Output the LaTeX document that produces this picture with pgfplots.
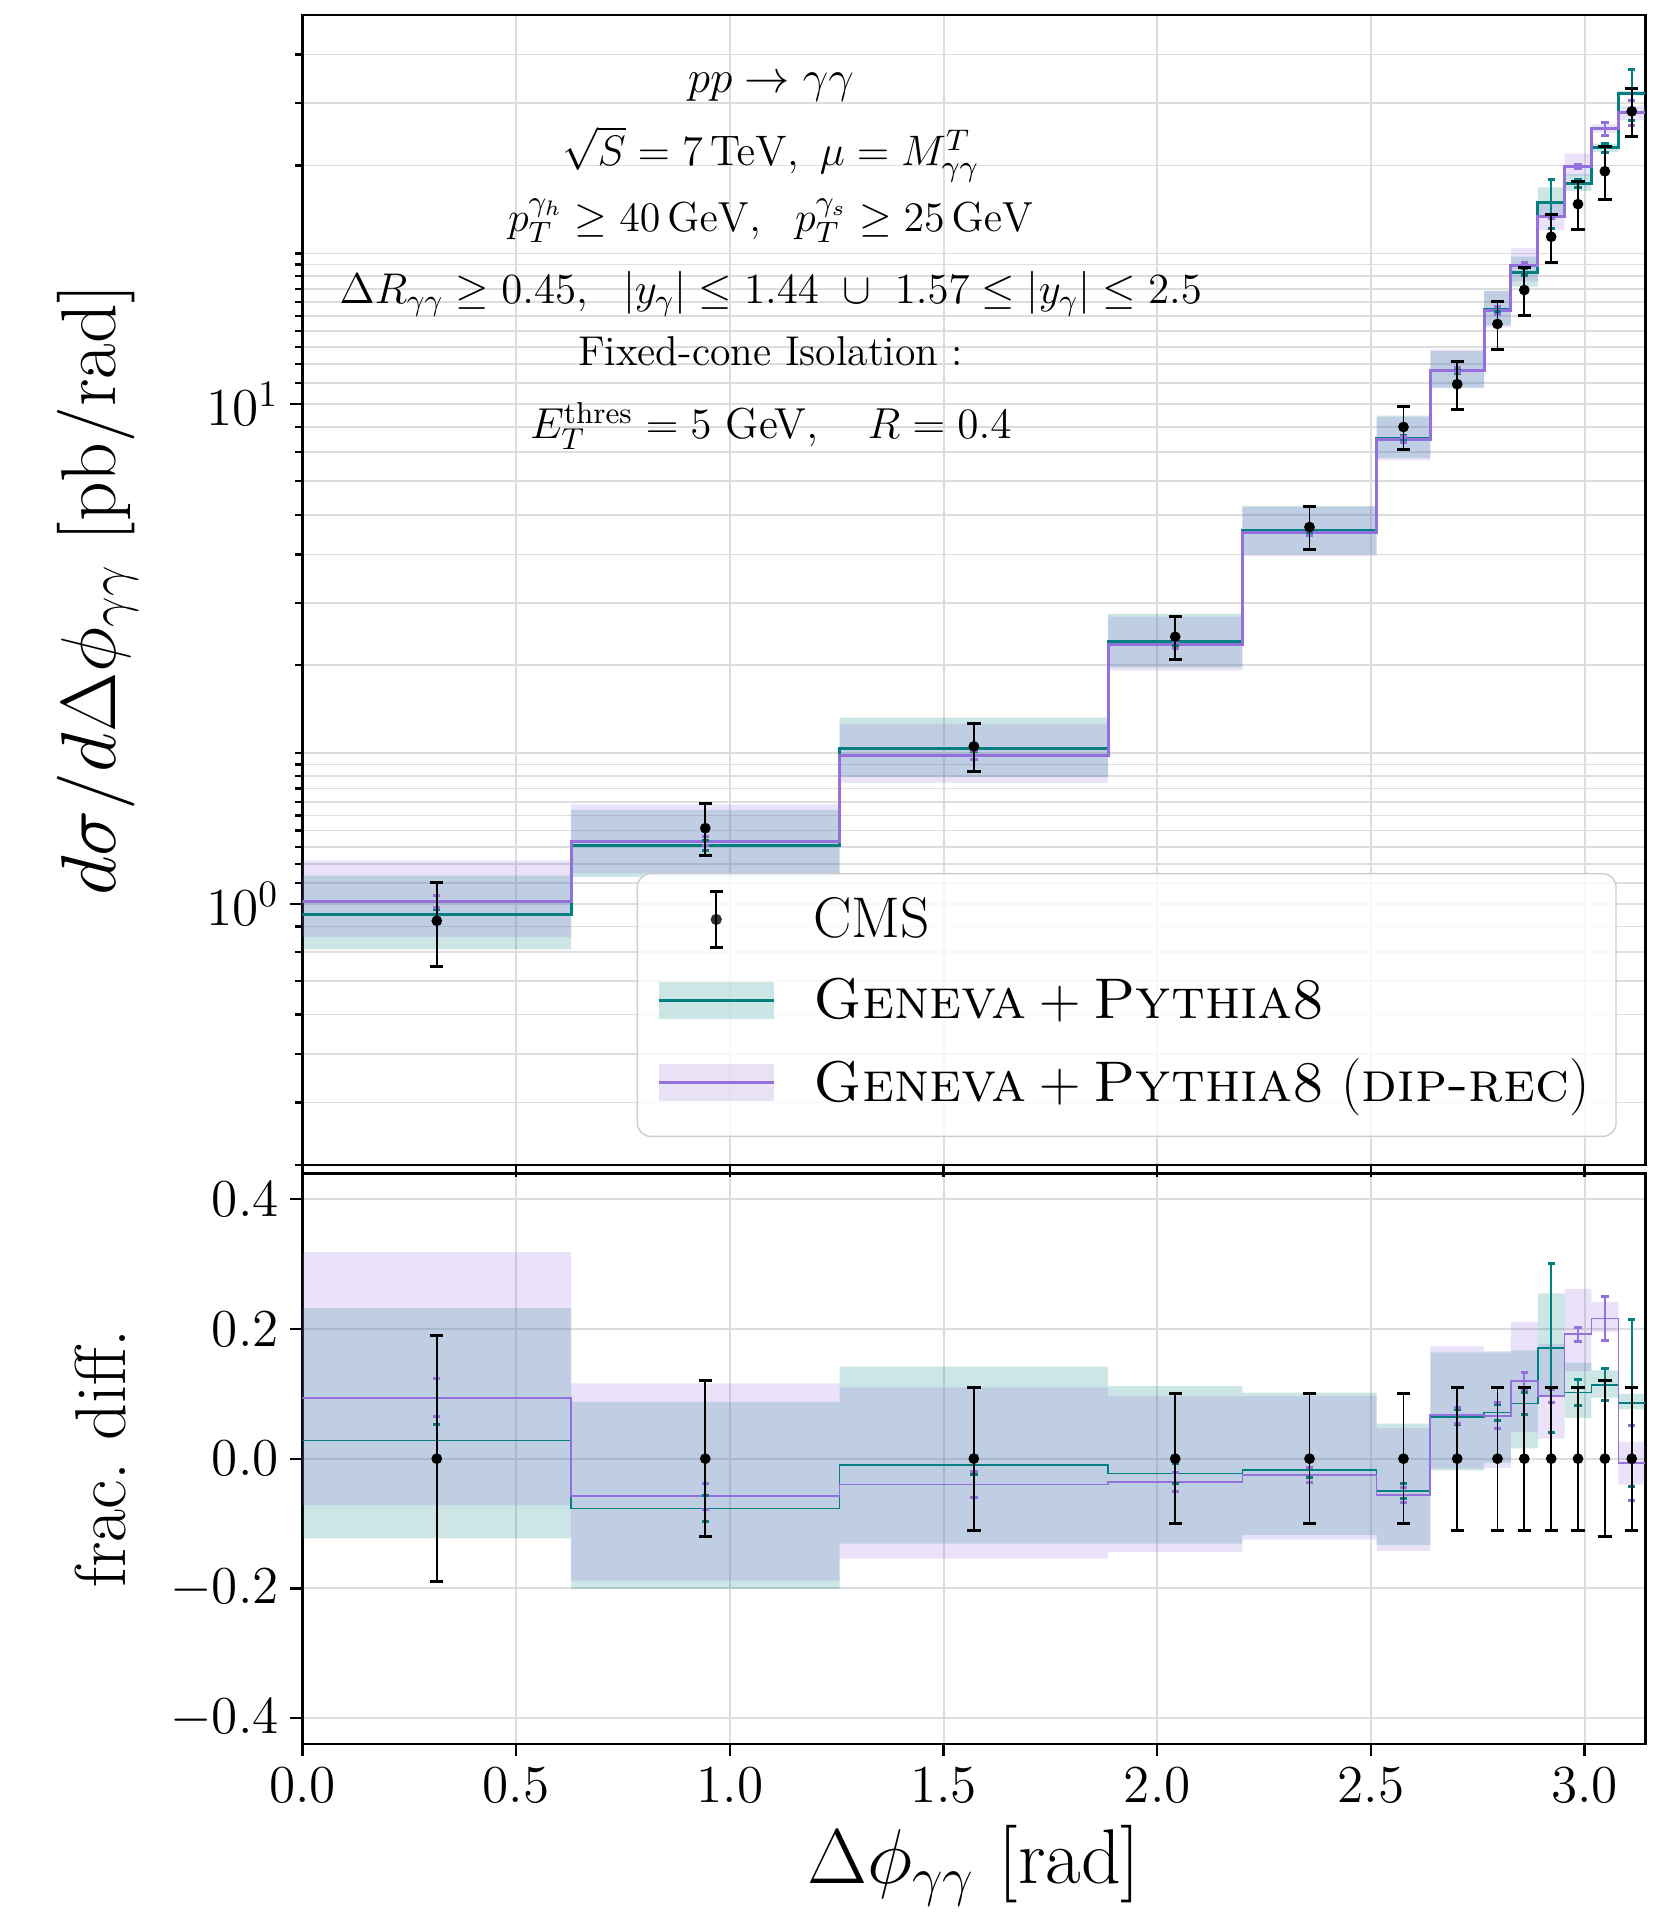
\RequirePackage{fix-cm}
\documentclass[border=0pt]{standalone}
\usepackage{pgfplots}
\pgfplotsset{compat=1.18}
\usepackage{pgfplotstable}
\usepgfplotslibrary{fillbetween}

\definecolor{geneva}{RGB}{0,128,128}
\definecolor{diprec}{RGB}{147,112,219}
\definecolor{gridc}{RGB}{221,221,221}

% Step histograms: left bin edge, central values and scale-variation bands
% (the last row repeats the final bin so that the step reaches pi)
\pgfplotstableread{
x       teal    purple  tl      tu      pl      pu
0.0000  0.950   1.011   0.810   1.138   0.857   1.219
0.6283  1.307   1.334   1.131   1.540   1.150   1.580
1.2566  2.043   1.981   1.794   2.357   1.746   2.291
1.8850  3.341   3.297   2.972   3.803   2.928   3.752
2.1991  5.574   5.528   5.001   6.248   4.961   6.220
2.5133  8.541   8.487   7.794   9.475   7.713   9.413
2.6389  11.65   11.68   10.75   12.75   10.79   12.84
2.7646  15.48   15.40   14.36   16.82   14.25   16.85
2.8274  18.34   18.93   17.17   19.72   17.59   20.47
2.8903  25.29   23.70   23.67   27.11   22.27   25.42
2.9531  27.66   29.92   26.68   28.81   28.61   31.68
3.0159  32.53   35.51   31.94   33.17   34.89   36.27
3.0788  41.81   38.23   41.43   42.35   36.96   39.50
3.1416  41.81   38.23   41.43   42.35   36.96   39.50
}\topsteps

% Bin centres: CMS data with total error, MC values with statistical error
\pgfplotstableread{
xc      cms     ce      teal    te      purple  pe
0.3142  0.924   0.176   0.950   0.022   1.011   0.027
0.9425  1.416   0.170   1.307   0.028   1.334   0.028
1.5708  2.064   0.227   2.043   0.031   1.981   0.041
2.0420  3.42    0.342   3.341   0.051   3.297   0.051
2.3562  5.67    0.567   5.574   0.068   5.528   0.068
2.5761  8.99    0.899   8.541   0.108   8.487   0.108
2.7018  10.95   1.205   11.65   0.131   11.68   0.131
2.7960  14.45   1.590   15.48   0.173   15.40   0.289
2.8588  16.9    1.859   18.34   0.287   18.93   0.220
2.9217  21.6    2.376   25.29   2.81    23.70   0.216
2.9845  25.1    2.761   27.66   0.502   29.92   0.276
3.0473  29.2    3.504   32.53   0.730   35.51   0.993
3.1102  38.5    4.235   41.81   4.97    38.23   2.233
}\toppts

% Fractional difference with respect to CMS
\pgfplotstableread{
x       teal    purple  tl      tu      pl      pu
0.0000  0.028   0.094   -0.123  0.232   -0.072  0.319
0.6283  -0.077  -0.058  -0.201  0.0875  -0.188  0.116
1.2566  -0.010  -0.040  -0.131  0.142   -0.154  0.110
1.8850  -0.023  -0.036  -0.131  0.112   -0.144  0.097
2.1991  -0.017  -0.025  -0.118  0.102   -0.125  0.097
2.5133  -0.050  -0.056  -0.133  0.054   -0.142  0.047
2.6389  0.064   0.067   -0.018  0.164   -0.015  0.173
2.7646  0.071   0.066   -0.006  0.164   -0.014  0.166
2.8274  0.085   0.120   0.016   0.167   0.041   0.211
2.8903  0.171   0.097   0.096   0.255   0.031   0.177
2.9531  0.102   0.192   0.063   0.148   0.135   0.262
3.0159  0.114   0.216   0.094   0.136   0.195   0.242
3.0788  0.086   -0.007  0.076   0.100   -0.040  0.026
3.1416  0.086   -0.007  0.076   0.100   -0.040  0.026
}\botsteps

\pgfplotstableread{
xc      cms  ce     teal    te     purple  pe
0.3142  0    0.19   0.028   0.024  0.094   0.029
0.9425  0    0.12   -0.077  0.020  -0.058  0.020
1.5708  0    0.11   -0.010  0.015  -0.040  0.020
2.0420  0    0.10   -0.023  0.015  -0.036  0.015
2.3562  0    0.10   -0.017  0.012  -0.025  0.012
2.5761  0    0.10   -0.050  0.012  -0.056  0.012
2.7018  0    0.11   0.064   0.012  0.067   0.012
2.7960  0    0.11   0.071   0.012  0.066   0.020
2.8588  0    0.11   0.085   0.017  0.120   0.013
2.9217  0    0.11   0.171   0.130  0.097   0.010
2.9845  0    0.11   0.102   0.020  0.192   0.011
3.0473  0    0.12   0.114   0.025  0.216   0.034
3.1102  0    0.11   0.086   0.129  -0.007  0.058
}\botpts

\pgfplotsset{
  panel/.style={
    scale only axis, width=402.8pt,
    xmin=0, xmax=3.14159,
    xtick={0,0.5,1,1.5,2,2.5,3},
    tick align=outside, tick pos=left,
    major tick length=3.6pt, minor tick length=2.1pt,
    every tick/.style={black, line width=0.7pt},
    axis line style={black, line width=0.8pt},
    xmajorgrids, ymajorgrids,
    major grid style={gridc, line width=0.6pt},
    minor grid style={gridc, line width=0.5pt},
    tick label style={font=\fontsize{16}{19}\selectfont},
    xticklabel style={/pgf/number format/.cd, fixed, fixed zerofill, precision=1},
  },
  band/.style={draw=none, const plot, forget plot},
  mcerr/.style={draw=none, mark=none, forget plot,
    error bars/.cd, y dir=both, y explicit,
    error bar style={draw=#1, line width=0.5pt},
    error mark options={rotate=90, draw=#1, mark size=1.1pt, line width=0.9pt}},
  cmspts/.style={black, only marks, mark=*, mark size=1.4pt, forget plot,
    error bars/.cd, y dir=both, y explicit,
    error bar style={black, line width=0.5pt},
    error mark options={rotate=90, black, mark size=2pt, line width=0.9pt}},
}

\begin{document}
\begin{tikzpicture}

% upper panel: differential cross section
\begin{axis}[panel,
  at={(0pt,173.7pt)}, anchor=south west, height=345pt,
  ymode=log, ymin=0.3, ymax=60,
  ytick={1,10},
  minor ytick={0.3,0.4,0.5,0.6,0.7,0.8,0.9,1.1,1.2,1.3,1.4,1.5,1.6,1.7,1.8,1.9,2,3,4,5,6,7,8,9,11,12,13,14,15,16,17,18,19,20,30,40,50},
  yminorgrids,
  xticklabels={},
  ylabel={$d\sigma/d\Delta\phi_{\gamma\gamma}$ [pb/rad]},
  ylabel style={at={(axis description cs:-0.1527,0.5)}, anchor=center,
    font=\fontsize{23.3}{27}\selectfont},
  legend style={at={(0.9788,0.0243)}, anchor=south east,
    draw=black!20, rounded corners=4pt, fill=white, fill opacity=0.8, text opacity=1,
    font=\fontsize{17.2}{20}\selectfont,
    inner xsep=6pt, inner ysep=4.8pt, row sep=6.6pt},
  legend cell align=left,
]
\addlegendimage{legend image code/.code={
  \path[draw=none, fill=none] (0pt,-5.5pt) rectangle (44.4pt,5.5pt);
  \draw[black, line width=0.5pt, sharp corners] (17.2pt,-8.5pt) -- (17.2pt,8.5pt);
  \draw[black, line width=0.9pt, sharp corners] (15.2pt,-8.5pt) -- (19.2pt,-8.5pt) (15.2pt,8.5pt) -- (19.2pt,8.5pt);
  \fill[black, draw=none] (17.2pt,0pt) circle (1.7pt);}}
\addlegendentry{CMS}
\addlegendimage{legend image code/.code={
  \path[draw=none, fill=none] (0pt,-5.5pt) rectangle (44.4pt,5.5pt);
  \path[fill=geneva, fill opacity=0.2, draw=none, sharp corners] (0pt,-5.5pt) rectangle (34.4pt,5.5pt);
  \draw[geneva, line width=0.9pt, sharp corners] (0pt,0pt) -- (34.4pt,0pt);}}
\addlegendentry{\textsc{Geneva}${}+{}$\textsc{Pythia8}}
\addlegendimage{legend image code/.code={
  \path[draw=none, fill=none] (0pt,-11.3pt) rectangle (44.4pt,5.5pt);
  \path[fill=diprec, fill opacity=0.2, draw=none, sharp corners] (0pt,-5.5pt) rectangle (34.4pt,5.5pt);
  \draw[diprec, line width=0.9pt, sharp corners] (0pt,0pt) -- (34.4pt,0pt);}}
\addlegendentry{\textsc{Geneva}${}+{}$\textsc{Pythia8} (\textsc{dip-rec})}

\addplot[band, name path=tu] table[x=x, y=tu]{\topsteps};
\addplot[band, name path=tl] table[x=x, y=tl]{\topsteps};
\addplot[fill=geneva, fill opacity=0.2, draw=none, forget plot] fill between[of=tu and tl];
\addplot[band, name path=pu] table[x=x, y=pu]{\topsteps};
\addplot[band, name path=pl] table[x=x, y=pl]{\topsteps};
\addplot[fill=diprec, fill opacity=0.2, draw=none, forget plot] fill between[of=pu and pl];

\addplot[geneva, line width=0.9pt, const plot, forget plot] table[x=x, y=teal]{\topsteps};
\addplot[diprec, line width=0.9pt, const plot, forget plot] table[x=x, y=purple]{\topsteps};

\addplot[mcerr=geneva] table[x=xc, y=teal, y error plus=te, y error minus=te]{\toppts};
\addplot[mcerr=diprec] table[x=xc, y=purple, y error plus=pe, y error minus=pe]{\toppts};
\addplot[cmspts] table[x=xc, y=cms, y error plus=ce, y error minus=ce]{\toppts};

\begin{scope}[every node/.style={anchor=base}]
\node[font=\fontsize{13.6}{16}\selectfont] at (rel axis cs:0.3488,0.9324) {$pp \rightarrow \gamma\gamma$};
\node[font=\fontsize{12.8}{15}\selectfont] at (rel axis cs:0.3488,0.8688) {$\sqrt{S} = 7\,\mathrm{TeV},\ \mu = M_{\gamma\gamma}^{T}$};
\node[font=\fontsize{12.6}{15}\selectfont] at (rel axis cs:0.3488,0.8116) {$p_T^{\gamma_h} \geq 40\,\mathrm{GeV},\ \ p_T^{\gamma_s} \geq 25\,\mathrm{GeV}$};
\node[font=\fontsize{12.9}{15}\selectfont] at (rel axis cs:0.3488,0.7490) {$\Delta R_{\gamma\gamma} \geq 0.45,\ \ |y_\gamma| \leq 1.44\ \cup\ 1.57 \leq |y_\gamma| \leq 2.5$};
\node[font=\fontsize{12.5}{15}\selectfont] at (rel axis cs:0.3488,0.6949) {Fixed-cone Isolation :};
\node[font=\fontsize{13}{15}\selectfont] at (rel axis cs:0.3488,0.6313) {$E_T^{\mathrm{thres}} = 5$ GeV$,\ \ \ R = 0.4$};
\end{scope}
\end{axis}

% lower panel: fractional difference to data
\begin{axis}[panel,
  at={(0pt,0pt)}, anchor=south west, height=171.2pt,
  ymin=-0.44, ymax=0.44,
  ytick={-0.4,-0.2,0,0.2,0.4},
  yticklabel style={/pgf/number format/.cd, fixed, fixed zerofill, precision=1},
  xlabel={$\Delta\phi_{\gamma\gamma}$ [rad]},
  xlabel style={at={(axis description cs:0.5,-0.2138)}, anchor=center,
    font=\fontsize{23.3}{27}\selectfont},
  ylabel={frac.\ diff.},
  ylabel style={at={(axis description cs:-0.1508,0.5)}, anchor=center,
    font=\fontsize{21.6}{25}\selectfont},
]
\addplot[band, name path=btu] table[x=x, y=tu]{\botsteps};
\addplot[band, name path=btl] table[x=x, y=tl]{\botsteps};
\addplot[fill=geneva, fill opacity=0.2, draw=none, forget plot] fill between[of=btu and btl];
\addplot[band, name path=bpu] table[x=x, y=pu]{\botsteps};
\addplot[band, name path=bpl] table[x=x, y=pl]{\botsteps};
\addplot[fill=diprec, fill opacity=0.2, draw=none, forget plot] fill between[of=bpu and bpl];

\addplot[geneva, line width=0.5pt, const plot, forget plot] table[x=x, y=teal]{\botsteps};
\addplot[diprec, line width=0.5pt, const plot, forget plot] table[x=x, y=purple]{\botsteps};

\addplot[mcerr=geneva] table[x=xc, y=teal, y error plus=te, y error minus=te]{\botpts};
\addplot[mcerr=diprec] table[x=xc, y=purple, y error plus=pe, y error minus=pe]{\botpts};
\addplot[cmspts] table[x=xc, y=cms, y error plus=ce, y error minus=ce]{\botpts};
\end{axis}

% page extent
\pgfresetboundingbox
\path[use as bounding box] (-90.75pt,-50.7pt) rectangle (405.75pt,523.2pt);
\end{tikzpicture}
\end{document}
